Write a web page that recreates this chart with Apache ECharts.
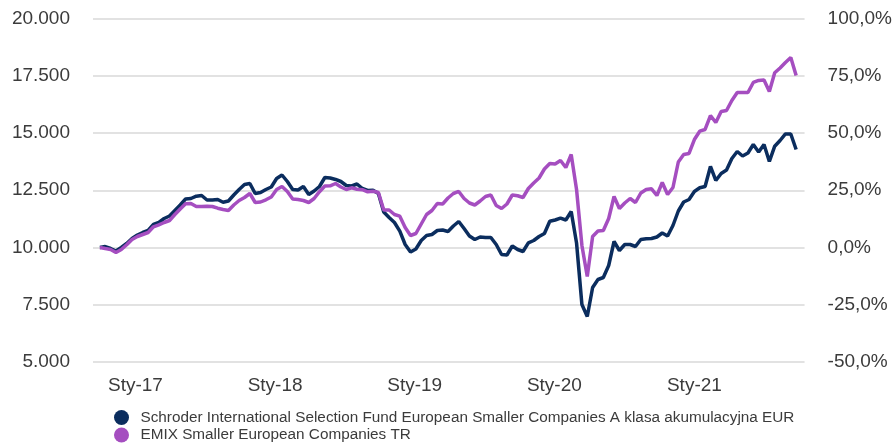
<!DOCTYPE html>
<html lang="pl">
<head>
    <meta charset="UTF-8">
    <title>Schroder ISF European Smaller Companies</title>
    <style>
        html, body { margin: 0; padding: 0; background: #fff; }
    </style>
</head>
<body>
<div id="main" style="width: 895px;height:445px;"></div>
<script type="text/javascript" src="https://cdn.jsdelivr.net/npm/echarts@6/dist/echarts.min.js"></script>
<script>
    // serie co dwa tygodnie od 30.09.2016, wartosc poczatkowa 10.000
    var startDate = [2016, 8, 30];
    var stepDays = 14;

    var fundName = 'Schroder International Selection Fund European Smaller Companies A klasa akumulacyjna EUR';
    var indexName = 'EMIX Smaller European Companies TR';

    var fundValues = [
        10000, 10040, 9956, 9847, 10000, 10175, 10393, 10546, 10655, 10742,
        11004, 11092, 11266, 11376, 11616, 11856, 12118, 12140, 12240, 12271,
        12074, 12074, 12096, 11978, 12031, 12293, 12533, 12751, 12795, 12358,
        12402, 12533, 12642, 13013, 13166, 12882, 12533, 12511, 12664, 12315,
        12467, 12664, 13057, 13035, 12970, 12882, 12708, 12686, 12773, 12577,
        12489, 12502, 12358, 11550, 11310, 11092, 10712, 10131, 9803, 9934,
        10306, 10524, 10568, 10742, 10764, 10699, 10939, 11135, 10830, 10502,
        10349, 10459, 10437, 10437, 10131, 9694, 9672, 10066, 9913, 9825,
        10205, 10306, 10480, 10611, 11148, 11201, 11280, 11201, 11572, 10197,
        7511, 6987, 8253, 8603, 8690, 9214, 10262, 9869, 10131, 10131,
        10044, 10349, 10380, 10393, 10459, 10633, 10502, 10961, 11594, 11987,
        12096, 12446, 12607, 12664, 13540, 12926, 13232, 13384, 13887, 14192,
        13996, 14127, 14498, 14170, 14498, 13756, 14424, 14673, 14957, 14957,
        14280
    ];

    var indexValues = [
        10000, 9956, 9913, 9782, 9913, 10118, 10349, 10480, 10568, 10655,
        10904, 10991, 11092, 11179, 11441, 11681, 11908, 11921, 11790, 11790,
        11804, 11790, 11716, 11659, 11616, 11856, 12052, 12184, 12358, 11965,
        11987, 12083, 12205, 12533, 12664, 12446, 12118, 12096, 12052, 11965,
        12140, 12437, 12686, 12694, 12795, 12642, 12533, 12607, 12542, 12524,
        12432, 12459, 12402, 11638, 11638, 11441, 11367, 10873, 10524, 10611,
        11026, 11441, 11616, 11921, 11900, 12162, 12358, 12446, 12140, 11943,
        11856, 12031, 12227, 12293, 11834, 11703, 11900, 12293, 12258, 12184,
        12577, 12817, 13035, 13428, 13668, 13646, 13799, 13494, 14061, 12533,
        10087, 8734, 10480, 10721, 10742, 11266, 12227, 11703, 11943, 12140,
        11965, 12380, 12533, 12563, 12271, 12839, 12315, 12620, 13734, 14061,
        14105, 14716, 15079, 15153, 15764, 15459, 15939, 15983, 16419, 16769,
        16769, 16769, 17206, 17294, 17315, 16813, 17629, 17839, 18079, 18297,
        17511
    ];

    var leftTicks = [5000, 20000, 2500];
    var rightTicks = [-50, 100, 25];

    var dates = [];
    for (var i = 0; i < fundValues.length; i++) {
        dates.push(new Date(startDate[0], startDate[1], startDate[2] + i * stepDays).getTime());
    }

    var textColor = '#3b3b3b';
    var font = 'Liberation Sans, Arial, sans-serif';

    var myChart = echarts.init(document.getElementById('main'));

    // jedna legenda na wiersz, zeby ustawic je jedna pod druga
    function legendRow(name, top) {
        return {
            left: 109,
            top: top,
            itemWidth: 28,
            itemHeight: 15,
            icon: 'circle',
            selectedMode: false,
            data: [name],
            textStyle: {
                fontFamily: font,
                fontSize: 15.3,
                color: textColor
            }
        };
    }

    var option = {
        animation: false,
        color: ['#0b2d5e', '#a54ec0'],
        grid: {
            left: 93,
            right: 90,
            top: 18.5,
            bottom: 83
        },
        legend: [
            legendRow(fundName, 405),
            legendRow(indexName, 422.5)
        ],
        xAxis: {
            type: 'time',
            min: new Date(2016, 8, 12).getTime(),
            max: new Date(2021, 9, 16).getTime(),
            axisLine: { show: false },
            axisTick: { show: false },
            splitLine: { show: false },
            axisLabel: {
                margin: 14,
                fontFamily: font,
                fontSize: 19,
                color: textColor,
                showMinLabel: false,
                showMaxLabel: false,
                hideOverlap: false,
                formatter: function (value) {
                    var d = new Date(value);
                    if (d.getMonth() === 0 && d.getDate() === 1) {
                        return 'Sty-' + String(d.getFullYear()).slice(2);
                    }
                    return '';
                }
            }
        },
        yAxis: [
            {
                type: 'value',
                position: 'left',
                min: leftTicks[0],
                max: leftTicks[1],
                interval: leftTicks[2],
                axisLine: { show: false },
                axisTick: { show: false },
                splitLine: {
                    lineStyle: { color: '#e2e2e2', width: 2 }
                },
                axisLabel: {
                    margin: 23,
                    fontFamily: font,
                    fontSize: 19,
                    color: textColor,
                    formatter: function (v) {
                        return String(v).replace(/\B(?=(\d{3})+(?!\d))/g, '.');
                    }
                }
            },
            {
                type: 'value',
                position: 'right',
                min: rightTicks[0],
                max: rightTicks[1],
                interval: rightTicks[2],
                axisLine: { show: false },
                axisTick: { show: false },
                splitLine: { show: false },
                axisLabel: {
                    margin: 23,
                    fontFamily: font,
                    fontSize: 19,
                    color: textColor,
                    formatter: function (v) {
                        return v.toFixed(1).replace('.', ',') + '%';
                    }
                }
            }
        ],
        series: [
            {
                name: fundName,
                type: 'line',
                yAxisIndex: 0,
                showSymbol: false,
                lineStyle: { width: 3.5 },
                data: fundValues.map(function (v, i) { return [dates[i], v]; })
            },
            {
                name: indexName,
                type: 'line',
                yAxisIndex: 0,
                showSymbol: false,
                lineStyle: { width: 3.5 },
                data: indexValues.map(function (v, i) { return [dates[i], v]; })
            }
        ]
    };

    myChart.setOption(option);
</script>
</body>
</html>
